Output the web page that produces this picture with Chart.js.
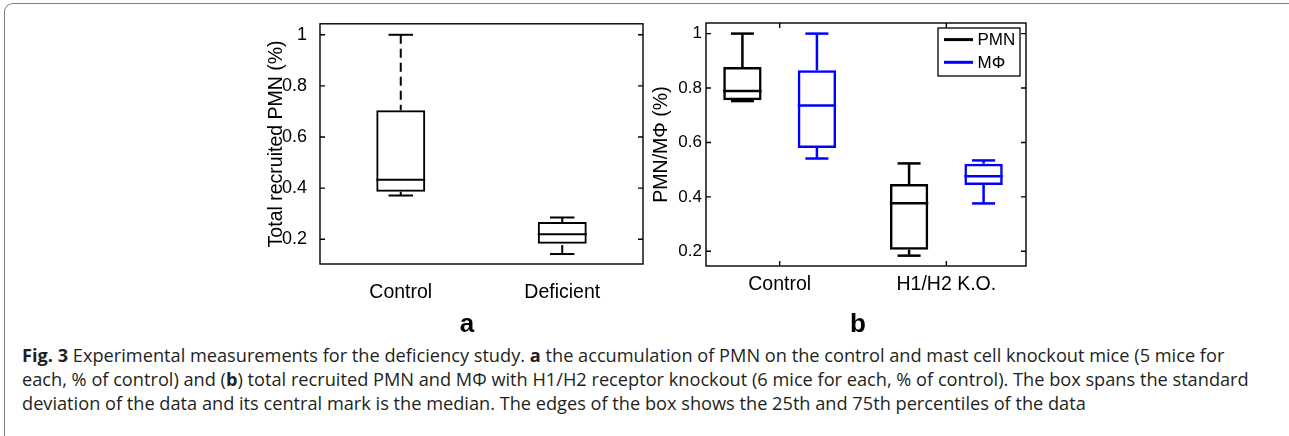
<!DOCTYPE html>
<html>
<head>
<meta charset="utf-8">
<script src="https://cdn.jsdelivr.net/npm/chart.js@4.4.0/dist/chart.umd.min.js"></script>
<style>
  html, body { margin: 0; padding: 0; background: #fff; }
  body { width: 1289px; height: 436px; position: relative; overflow: hidden; }
  .frame { position: absolute; left: 4px; top: 3px; width: 1300px; height: 450px;
           border-top: 1.5px solid #7d7d7d; border-left: 1.5px solid #7d7d7d; border-top-left-radius: 9px; }
  canvas { position: absolute; top: 0; }
  #chartA { left: 255px; }
  #chartB { left: 645px; }
  .panel { position: absolute; top: 308px; width: 40px; line-height: 30px; text-align: center;
           font: bold 26px 'Liberation Sans', Arial, sans-serif; color: #000; }
  .caption { position: absolute; left: 22px; top: 343px; font: 18.2px 'Open Sans', sans-serif;
             line-height: 24px; color: #231f20; white-space: nowrap; }
</style>
</head>
<body>
<div class="frame"></div>
<canvas id="chartA" width="395" height="340"></canvas>
<canvas id="chartB" width="395" height="340"></canvas>
<div class="panel" style="left: 447px;">a</div>
<div class="panel" style="left: 838px;">b</div>
<div class="caption">
<b>Fig. 3</b> Experimental measurements for the deficiency study. <b>a</b> the accumulation of PMN on the control and mast cell knockout mice (5 mice for<br>
each, % of control) and (<b>b</b>) total recruited PMN and MΦ with H1/H2 receptor knockout (6 mice for each, % of control). The box spans the standard<br>
deviation of the data and its central mark is the median. The edges of the box shows the 25th and 75th percentiles of the data
</div>
<script>
// panel a: control vs mast cell deficient
const catsA = ['Control', 'Deficient'];
const minA = [0.371, 0.142];
const q1A = [0.386, 0.182];
const medA = [0.433, 0.219];
const q3A = [0.705, 0.267];
const maxA = [1.0, 0.285];
const yTicksA = [0.2, 0.4, 0.6, 0.8, 1];

// panel b: PMN and MPhi, control vs H1/H2 K.O.
const catsB = ['Control', 'H1/H2 K.O.'];
const pmnMin = [0.752, 0.184];
const pmnQ1 = [0.755, 0.206];
const pmnMed = [0.789, 0.377];
const pmnQ3 = [0.877, 0.447];
const pmnMax = [1.0, 0.523];
const mfMin = [0.541, 0.376];
const mfQ1 = [0.58, 0.444];
const mfMed = [0.736, 0.476];
const mfQ3 = [0.865, 0.522];
const mfMax = [1.0, 0.534];
const yTicksB = [0.2, 0.4, 0.6, 0.8, 1];

Chart.defaults.font.family = "'Liberation Sans', Arial, sans-serif";
Chart.defaults.color = '#000';

function line(ctx, x1, y1, x2, y2) {
    ctx.beginPath();
    ctx.moveTo(x1, y1);
    ctx.lineTo(x2, y2);
    ctx.stroke();
}

// whiskers, caps and median on top of the floating bars
const boxPlugin = {
    id: 'boxWhiskers',
    afterDatasetsDraw(chart, args, opts) {
        const ctx = chart.ctx;
        const y = chart.scales.y;
        chart.data.datasets.forEach((ds, di) => {
            chart.getDatasetMeta(di).data.forEach((bar, i) => {
                const x = bar.x, w = bar.width, cap = w * opts.cap / 2;
                const range = ds.data[i].y || ds.data[i];
                ctx.save();
                ctx.strokeStyle = ds.borderColor;
                ctx.lineWidth = opts.lineWidth;
                const yMed = y.getPixelForValue(ds.med[i]);
                line(ctx, x - w / 2, yMed, x + w / 2, yMed);
                const yHi = y.getPixelForValue(ds.hi[i]);
                const yLo = y.getPixelForValue(ds.lo[i]);
                const yQ3 = y.getPixelForValue(range[1]);
                const yQ1 = y.getPixelForValue(range[0]);
                ctx.setLineDash(opts.dash);
                line(ctx, x, yHi, x, yQ3);
                line(ctx, x, yLo, x, yQ1);
                ctx.setLineDash([]);
                line(ctx, x - cap, yHi, x + cap, yHi);
                line(ctx, x - cap, yLo, x + cap, yLo);
                ctx.restore();
            });
        });
    }
};

// matlab style box with inward ticks
const framePlugin = {
    id: 'frame',
    afterDraw(chart, args, opts) {
        const {ctx, chartArea: a, scales} = chart;
        const t = opts.tickLen;
        ctx.save();
        ctx.strokeStyle = '#000';
        ctx.lineWidth = opts.lineWidth;
        ctx.strokeRect(a.left, a.top, a.right - a.left, a.bottom - a.top);
        ctx.beginPath();
        scales.y.ticks.forEach((tk, i) => {
            const py = scales.y.getPixelForTick(i);
            ctx.moveTo(a.left, py); ctx.lineTo(a.left + t, py);
            ctx.moveTo(a.right, py); ctx.lineTo(a.right - t, py);
        });
        if (opts.xTicks) {
            scales.x.ticks.forEach((tk, i) => {
                const px = scales.x.getPixelForTick(i);
                ctx.moveTo(px, a.bottom); ctx.lineTo(px, a.bottom - t);
                ctx.moveTo(px, a.top); ctx.lineTo(px, a.top + t);
            });
        }
        ctx.stroke();
        ctx.restore();
    }
};

const legendBoxPlugin = {
    id: 'legendBox',
    afterDraw(chart) {
        const {ctx, chartArea: a} = chart;
        const w = 82, h = 48;
        const x0 = a.right - 6 - w, y0 = a.top + 5;
        ctx.save();
        ctx.fillStyle = '#fff';
        ctx.fillRect(x0, y0, w, h);
        ctx.strokeStyle = '#000';
        ctx.lineWidth = 1.3;
        ctx.strokeRect(x0, y0, w, h);
        ctx.font = "17px 'Liberation Sans', Arial, sans-serif";
        ctx.textBaseline = 'middle';
        chart.data.datasets.forEach((ds, i) => {
            const ly = y0 + 11.6 + i * 22.7;
            ctx.strokeStyle = ds.borderColor;
            ctx.lineWidth = 3;
            line(ctx, x0 + 6, ly, x0 + 35, ly);
            ctx.fillStyle = '#000';
            ctx.fillText(ds.label, x0 + 39.5, ly + 1);
        });
        ctx.restore();
    }
};

const titleFont = {size: 19.5};
const noGrid = {display: false, drawTicks: false};

// Chart a
new Chart(document.getElementById('chartA'), {
    type: 'bar',
    data: {
        labels: catsA,
        datasets: [{
            label: 'PMN',
            data: catsA.map((c, i) => [q1A[i], q3A[i]]),
            lo: minA, med: medA, hi: maxA,
            backgroundColor: 'rgba(0,0,0,0)',
            borderColor: '#000',
            borderWidth: 2,
            borderSkipped: false,
            inflateAmount: 0,
            categoryPercentage: 1,
            barPercentage: 0.303
        }]
    },
    options: {
        responsive: false,
        animation: false,
        layout: {padding: {top: 22, right: 7, left: 0, bottom: 0}},
        plugins: {
            legend: {display: false},
            tooltip: {enabled: false},
            boxWhiskers: {cap: 0.5, lineWidth: 2, dash: [9, 5]},
            frame: {tickLen: 5, lineWidth: 1.4, xTicks: false}
        },
        scales: {
            x: {
                type: 'category',
                offset: true,
                grid: noGrid,
                border: {display: false},
                ticks: {font: titleFont, padding: 17, maxRotation: 0},
                afterFit: s => { s.height = 76; }
            },
            y: {
                min: 0.103,
                max: 1.043,
                grid: noGrid,
                border: {display: false},
                afterBuildTicks: s => { s.ticks = yTicksA.map(v => ({value: v})); },
                ticks: {font: {size: 18}, padding: 13, callback: v => String(+v.toFixed(1))},
                title: {display: true, text: 'Total recruited PMN (%)', font: titleFont, padding: {top: 10, bottom: 0}},
                afterFit: s => { s.width = 65; }
            }
        }
    },
    plugins: [boxPlugin, framePlugin]
});

// Chart b
new Chart(document.getElementById('chartB'), {
    type: 'bar',
    data: {
        datasets: [{
            label: 'PMN',
            data: catsB.map((c, i) => ({x: i + 1, y: [pmnQ1[i], pmnQ3[i]]})),
            lo: pmnMin, med: pmnMed, hi: pmnMax,
            backgroundColor: 'rgba(0,0,0,0)',
            borderColor: '#000',
            borderWidth: 2.5,
            borderSkipped: false,
            inflateAmount: 0,
            categoryPercentage: 0.894,
            barPercentage: 0.515
        }, {
            label: 'MΦ',
            data: catsB.map((c, i) => ({x: i + 1, y: [mfQ1[i], mfQ3[i]]})),
            lo: mfMin, med: mfMed, hi: mfMax,
            backgroundColor: 'rgba(0,0,0,0)',
            borderColor: '#0000ff',
            borderWidth: 2.5,
            borderSkipped: false,
            inflateAmount: 0,
            categoryPercentage: 0.894,
            barPercentage: 0.515
        }]
    },
    options: {
        responsive: false,
        animation: false,
        layout: {padding: {top: 23, right: 14, left: 0, bottom: 0}},
        plugins: {
            legend: {display: false},
            tooltip: {enabled: false},
            boxWhiskers: {cap: 0.6, lineWidth: 2.5, dash: []},
            frame: {tickLen: 5, lineWidth: 1.4, xTicks: true}
        },
        scales: {
            x: {
                type: 'linear',
                min: 0.558,
                max: 2.478,
                offset: false,
                grid: noGrid,
                border: {display: false},
                afterBuildTicks: s => { s.ticks = catsB.map((c, i) => ({value: i + 1})); },
                ticks: {font: titleFont, padding: 7, maxRotation: 0, autoSkip: false, callback: v => catsB[v - 1]},
                afterFit: s => { s.height = 74; }
            },
            y: {
                min: 0.146,
                max: 1.039,
                grid: noGrid,
                border: {display: false},
                afterBuildTicks: s => { s.ticks = yTicksB.map(v => ({value: v})); },
                ticks: {font: {size: 17}, padding: 4, callback: v => String(+v.toFixed(1))},
                title: {display: true, text: 'PMN/MΦ (%)', font: titleFont, padding: {top: 5, bottom: 0}},
                afterFit: s => { s.width = 61; }
            }
        }
    },
    plugins: [boxPlugin, framePlugin, legendBoxPlugin]
});
</script>
</body>
</html>
